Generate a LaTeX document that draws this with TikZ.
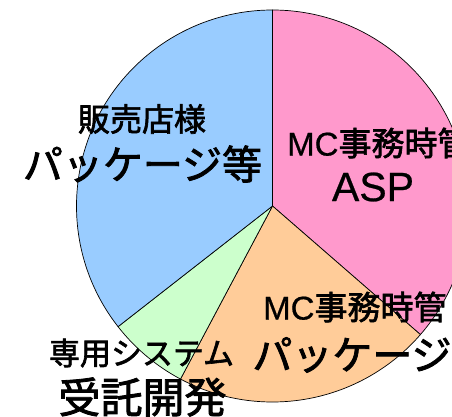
\documentclass[tikz,border=0pt]{standalone}
\usepackage{fontspec}
\setmainfont{Noto Sans CJK JP}[FakeBold=2]
\newfontfamily\latfont{Liberation Sans}[FakeBold=0.6]
\definecolor{pinkc}{HTML}{FF99CC}
\definecolor{orangec}{HTML}{FFCC99}
\definecolor{greenc}{HTML}{CCFFCC}
\definecolor{bluec}{HTML}{99CCFF}
\tikzset{
  slice/.style={draw=black, line width=0.7pt, line join=round},
  lbl/.style={inner sep=0pt, text=black},
}
\newcommand{\fs}[1]{\fontsize{#1}{#1}\selectfont}
\begin{document}
\begin{tikzpicture}[x=1pt,y=1pt]
\useasboundingbox (0,0) rectangle (452,417);
\clip (0,0) rectangle (452,417);
\coordinate (C) at (272.5,211);
\def\R{196}
\filldraw[slice, fill=pinkc] (C) -- ++(90:\R) arc[start angle=90, end angle=-41, radius=\R] -- cycle;
\filldraw[slice, fill=orangec] (C) -- ++(-41:\R) arc[start angle=-41, end angle=-118, radius=\R] -- cycle;
\filldraw[slice, fill=greenc] (C) -- ++(-118:\R) arc[start angle=-118, end angle=-142, radius=\R] -- cycle;
\filldraw[slice, fill=bluec] (C) -- ++(-142:\R) arc[start angle=-142, end angle=-270, radius=\R] -- cycle;
\node[lbl] (hanbai) at (142,298) {\fs{32}販売店様};
\node[lbl] (pkgtou) at (142.5,253) {\fs{40}パッケージ等};
\node[lbl, anchor=west] (mc1) at (287,274) {\fs{33}{\latfont MC}事務時管};
\node[lbl] (asp) at (373,230) {\fs{41}\latfont ASP};
\node[lbl, anchor=west] (mc2) at (263,110) {\fs{33}{\latfont MC}事務時管};
\node[lbl] (pkg) at (352,62) {\fs{40}パッケージ};
\node[lbl] (senyo) at (141.5,64) {\fs{31}専用システム};
\node[lbl] (jutaku) at (142.5,20) {\fs{42}受託開発};
\end{tikzpicture}
\end{document}
